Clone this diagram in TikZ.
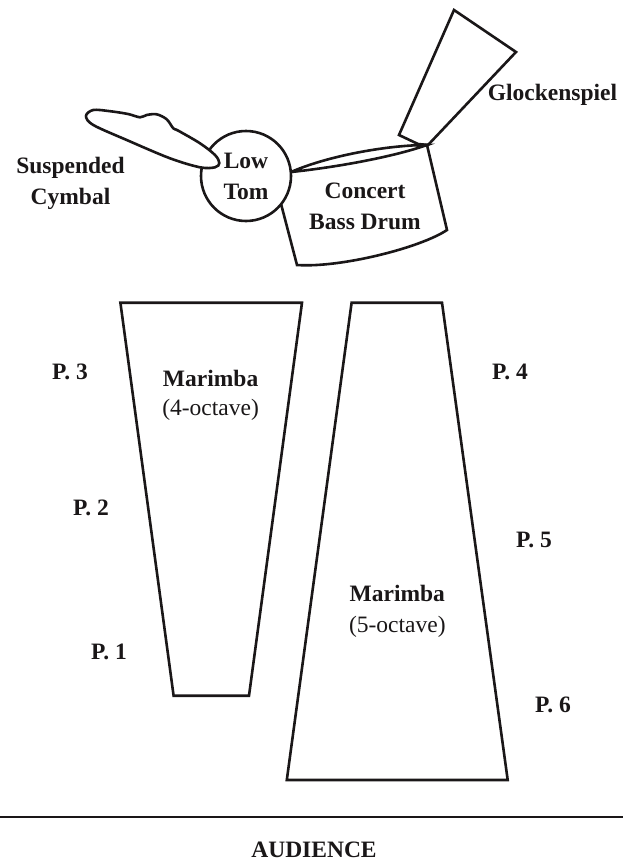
\documentclass[tikz,border=0pt]{standalone}
\usepackage{fontspec}
\setmainfont{Liberation Serif}
\definecolor{ink}{HTML}{1A1718}
\begin{document}
\begin{tikzpicture}[x=1pt,y=-1pt,
  outl/.style={draw=ink,line width=2.6pt,line join=miter,fill=white},
  lbl/.style={text=ink,font=\fontsize{23.5}{31}\selectfont\bfseries,align=center,inner sep=0pt},
  sub/.style={text=ink,font=\fontsize{23.5}{31}\selectfont,align=center,inner sep=0pt}]
\useasboundingbox (0,0) rectangle (623,862);
% Glockenspiel
\draw[outl] (454,10) -- (516,52) -- (428,145) -- (418,144) -- (399,135) -- cycle;
% Concert bass drum body
\draw[outl] (427,145) -- (447,230) .. controls (420,248) and (340,268) .. (297,265) -- (280,200) -- (291,172) -- cycle;
% drum top head
\draw[outl] (291,172) .. controls (330,155) and (390,145) .. (427,145)
             .. controls (390,158) and (330,168) .. (291,172) -- cycle;
% Low tom
\draw[outl] (246,176) circle (45);
% Suspended cymbal
\draw[outl] plot[smooth cycle,tension=0.55] coordinates {
 (86,116) (93.3,110) (110,111.2) (128,114) (140,117.3)
 (146.7,115) (156.7,114.3) (166.7,119.3) (173.3,128.3) (178.3,130.7)
 (200,143.3) (215,155) (219.3,163) (215,167.3) (200,167.3) (170,158.3)
 (126.7,140) (93.3,125)};
% Marimbas
\draw[outl] (120.4,302.7) -- (302,302.7) -- (249,695.7) -- (173.6,695.7) -- cycle;
\draw[outl] (351.6,302.7) -- (442,302.7) -- (507.7,780) -- (286.8,780) -- cycle;
% stage edge
\coordinate (edgeL) at (0,817);
\coordinate (edgeR) at (623,817);
\draw[draw=ink,line width=2.8pt] (edgeL) -- (edgeR);
% labels
\node[lbl] (cym) at (70.5,183.5) {Suspended\\Cymbal};
\node[lbl] (tom) at (246,176) {Low\\Tom};
\node[lbl] (bass) at (365,206) {Concert\\Bass Drum};
\node[lbl] (glock) at (552.5,95) {Glockenspiel};
\node[lbl] (m4) at (210.6,378) {Marimba};
\node[sub] (m4s) at (210.6,410) {(4-octave)};
\node[lbl] (m5) at (397.3,593) {Marimba};
\node[sub] (m5s) at (397.3,626.7) {(5-octave)};
\node[lbl] (p3) at (70,372) {P. 3};
\node[lbl] (p4) at (510,372) {P. 4};
\node[lbl] (p2) at (91,508) {P. 2};
\node[lbl] (p5) at (534,540) {P. 5};
\node[lbl] (p1) at (109,652) {P. 1};
\node[lbl] (p6) at (553,705) {P. 6};
\node[lbl] (aud) at (314,850) {AUDIENCE};
\end{tikzpicture}
\end{document}
